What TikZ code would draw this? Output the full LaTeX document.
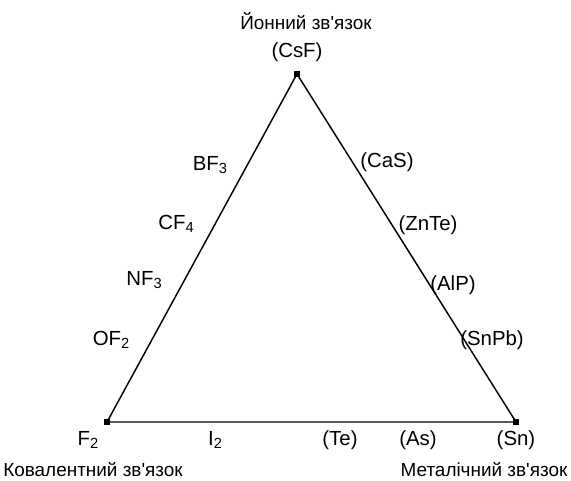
\documentclass[tikz,border=0pt]{standalone}
\usepackage{fontspec}
% plain family: keeps the straight apostrophe as typed
\newfontfamily\arialish{Liberation Sans}
\newcommand\lowidx[1]{\raisebox{-0.3ex}{\fontsize{11}{13}\selectfont #1}}
\tikzset{
  lbl/.style={font=\arialish\fontsize{15.3}{18}\selectfont, inner sep=0pt, anchor=center},
  bondtitle/.style={font=\arialish\fontsize{14.2}{17}\selectfont, inner sep=0pt, anchor=center},
  corner/.style={fill=black, minimum size=5.2pt, inner sep=0pt, draw=none, rectangle},
  sideline/.style={line width=1.1pt, black}
}
\begin{document}
\begin{tikzpicture}[x=0.75pt, y=-0.75pt]
  \useasboundingbox (0,0) rectangle (571,481);
  % corners of the triangle
  \node[corner] (ion) at (297,74) {};
  \node[corner] (cov) at (107,422) {};
  \node[corner] (met) at (516,422) {};
  \draw[sideline] (ion.center) -- (cov.center) -- (met.center) -- cycle;

  % corner titles
  \node[bondtitle] (tion) at (306,21) {Йонний зв'язок};
  \node[bondtitle] (tcov) at (93,470) {Ковалентний зв'язок};
  \node[bondtitle] (tmet) at (484,470) {Металічний зв'язок};

  % compounds at the corners
  \node[lbl] (csf) at (297,52) {(CsF)};
  \node[lbl] (f2) at (88,440) {F\lowidx{2}};
  \node[lbl] (sn) at (516,440) {(Sn)};

  % left side: covalent--ionic
  \node[lbl] (bf3) at (210,165) {BF\lowidx{3}};
  \node[lbl] (cf4) at (176,224) {CF\lowidx{4}};
  \node[lbl] (nf3) at (144,280) {NF\lowidx{3}};
  \node[lbl] (of2) at (111,340) {OF\lowidx{2}};

  % right side: ionic--metallic
  \node[lbl] (cas) at (387,162) {(CaS)};
  \node[lbl] (znte) at (428,225) {(ZnTe)};
  \node[lbl] (alp) at (453,285) {(AlP)};
  \node[lbl] (snpb) at (492,340) {(SnPb)};

  % bottom side: covalent--metallic
  \node[lbl] (i2) at (215,440) {I\lowidx{2}};
  \node[lbl] (te) at (340,440) {(Te)};
  \node[lbl] (as) at (418,440) {(As)};
\end{tikzpicture}
\end{document}
